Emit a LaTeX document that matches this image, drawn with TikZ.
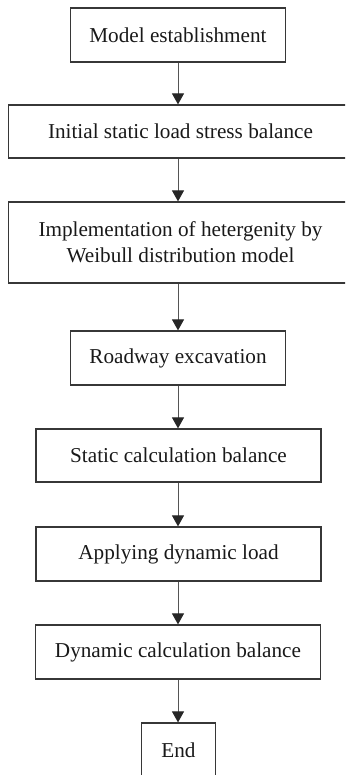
\documentclass[tikz,border=0pt]{standalone}
\usepackage{fontspec}
\setmainfont{Liberation Serif}
\definecolor{boxline}{RGB}{55, 55, 55}
\definecolor{arrowline}{RGB}{85, 85, 85}
\usetikzlibrary{arrows.meta, positioning}

\begin{document}
\begin{tikzpicture}[x=1pt, y=-1pt,
    flowbox/.style={draw=boxline, line width=1.2pt, minimum height=54pt,
                    inner sep=0pt, align=center, text=black!90,
                    font=\fontsize{21.2}{26}\selectfont},
    flowarrow/.style={draw=arrowline, line width=1pt,
                      -{Triangle[width=12pt, length=11pt, color=black!85]}}]
    \useasboundingbox (0,0) rectangle (345,775);
    \clip (0,0) rectangle (345,775);

    % steps of the simulation, top to bottom
    \node[flowbox, minimum width=215pt] (model) at (178,35) {Model establishment};
    \node[flowbox, minimum width=344pt, minimum height=53pt] (initial) at (180.5,131.5)
        {Initial static load stress balance};
    \node[flowbox, minimum width=344pt, minimum height=81pt] (weibull) at (180.5,242.5)
        {Implementation of hetergenity by\\Weibull distribution model};
    \node[flowbox, minimum width=215pt] (roadway) at (178,358) {Roadway excavation};
    \node[flowbox, minimum width=285pt, minimum height=53pt] (statcalc) at (178.5,455.5)
        {Static calculation balance};
    \node[flowbox, minimum width=285pt] (dynload) at (178.5,554) {Applying dynamic load};
    \node[flowbox, minimum width=285pt] (dyncalc) at (178,652) {Dynamic calculation balance};
    \node[flowbox, minimum width=74pt] (end) at (178.5,750) {End};

    % connectors
    \draw[flowarrow] (model) -- (model |- initial.north);
    \draw[flowarrow] (model |- initial.south) -- (model |- weibull.north);
    \draw[flowarrow] (model |- weibull.south) -- (roadway);
    \draw[flowarrow] (roadway) -- (roadway |- statcalc.north);
    \draw[flowarrow] (roadway |- statcalc.south) -- (roadway |- dynload.north);
    \draw[flowarrow] (roadway |- dynload.south) -- (roadway |- dyncalc.north);
    \draw[flowarrow] (roadway |- dyncalc.south) -- (roadway |- end.north);
\end{tikzpicture}
\end{document}
